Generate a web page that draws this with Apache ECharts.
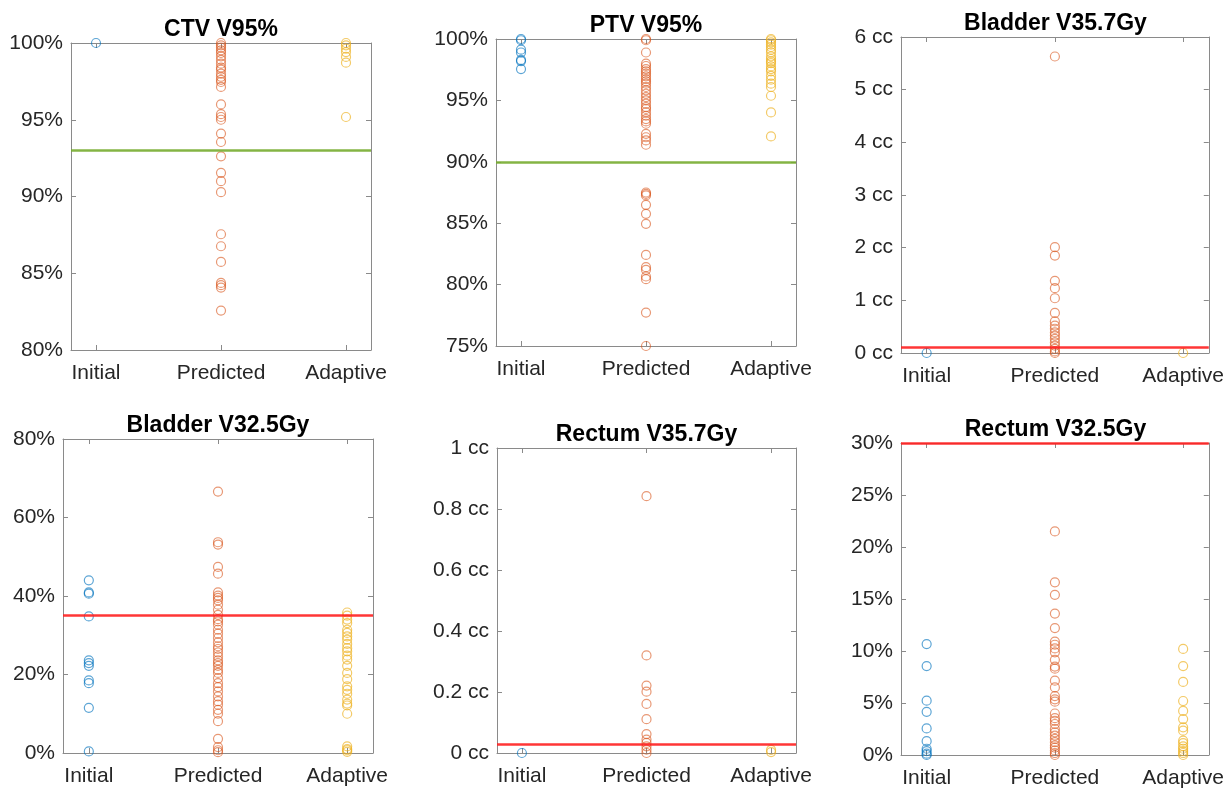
<!DOCTYPE html>
<html>
<head>
<meta charset="utf-8">
<script src="https://cdn.jsdelivr.net/npm/echarts@6/dist/echarts.min.js"></script>
<style>
html,body{margin:0;padding:0;background:#fff;}
#c{width:1227px;height:789px;}
</style>
</head>
<body>
<div id="c"></div>
<script>
// ---------- DATA ----------
const categories = ['Initial', 'Predicted', 'Adaptive'];

const titles = ['CTV V95%', 'PTV V95%', 'Bladder V35.7Gy', 'Bladder V32.5Gy', 'Rectum V35.7Gy', 'Rectum V32.5Gy'];

const ctvInitial = [100];
const ctvPredicted = [100, 99.85, 99.7, 99.52, 99.35, 99.13, 98.9, 98.65, 98.4, 98.26, 98.0, 97.8, 97.6, 97.46, 97.14, 96.0, 95.36, 95.18, 95.0, 94.1, 93.55, 92.62, 91.54, 91.0, 90.28, 87.54, 86.76, 85.74, 84.37, 84.22, 84.07, 82.57];
const ctvAdaptive = [100, 99.85, 99.63, 99.41, 99.09, 98.72, 95.18];
const ctvLimit = 93;

const ptvInitial = [100, 99.9, 99.13, 98.9, 98.3, 98.2, 97.55];
const ptvPredicted = [100, 99.9, 98.9, 97.99, 97.8, 97.55, 97.36, 97.17, 96.96, 96.74, 96.55, 96.36, 96.09, 95.82, 95.54, 95.27, 95.0, 94.73, 94.46, 94.3, 94.02, 93.75, 93.48, 93.29, 93.1, 92.28, 92.0, 91.74, 91.39, 87.5, 87.39, 87.26, 86.5, 85.76, 84.95, 82.42, 81.42, 81.2, 80.66, 80.44, 77.72, 75.0];
const ptvAdaptive = [100, 99.9, 99.73, 99.54, 99.35, 99.13, 98.91, 98.59, 98.37, 98.18, 98.04, 97.77, 97.55, 97.36, 97.0, 96.69, 96.36, 96.09, 95.38, 94.02, 92.07];
const ptvLimit = 90;

const bladder357Initial = [0];
const bladder357Predicted = [5.63, 2.01, 1.85, 1.37, 1.23, 1.04, 0.76, 0.60, 0.52, 0.46, 0.39, 0.33, 0.27, 0.20, 0.14, 0.08, 0.03, 0];
const bladder357Adaptive = [0];
const bladder357Limit = 0.1;

const bladder325Initial = [44.0, 40.9, 40.6, 34.8, 23.6, 22.9, 22.2, 18.5, 17.8, 11.5, 0.4];
const bladder325Predicted = [66.6, 53.7, 53.1, 47.4, 45.7, 40.9, 40.1, 39.5, 38.9, 37.8, 36.5, 35.2, 34.1, 33.5, 32.7, 31.4, 30.4, 29.3, 28.2, 27.2, 26.5, 25.6, 24.6, 23.6, 22.9, 22.2, 21.2, 20.4, 19.1, 17.8, 16.8, 15.7, 14.4, 13.2, 12.3, 11.0, 10.0, 8.1, 3.6, 1.5, 0.7, 0.2];
const bladder325Adaptive = [35.8, 35.0, 34.0, 33.1, 31.4, 30.6, 29.7, 28.9, 27.8, 26.7, 25.9, 24.8, 23.8, 22.2, 20.4, 18.8, 17.0, 16.1, 15.1, 13.6, 12.6, 12.1, 10.0, 1.7, 1.0, 0.7, 0.3];
const bladder325Limit = 35;

const rectum357Initial = [0];
const rectum357Predicted = [0.842, 0.320, 0.221, 0.201, 0.161, 0.111, 0.062, 0.044, 0.033, 0.022, 0.011, 0];
const rectum357Adaptive = [0.003, 0.01];
const rectum357Limit = 0.03;

const rectum325Initial = [10.67, 8.55, 5.22, 4.15, 2.56, 1.33, 0.6, 0.38, 0.13, 0];
const rectum325Predicted = [21.5, 16.6, 15.4, 13.6, 12.2, 10.9, 10.6, 10.25, 9.87, 9.15, 8.5, 8.3, 7.15, 6.5, 5.67, 5.35, 5.13, 3.99, 3.54, 3.29, 2.98, 2.5, 2.18, 1.87, 1.55, 1.23, 0.92, 0.7, 0.44, 0.19, 0];
const rectum325Adaptive = [10.2, 8.55, 7.03, 5.19, 4.24, 3.45, 2.66, 2.34, 1.39, 1.14, 0.82, 0.6, 0.38, 0.19, 0];
const rectum325Limit = 30;

// y-axis ranges: [min, max, interval]
const yRanges = [[80, 100, 5], [75, 100, 5], [0, 6, 1], [0, 80, 20], [0, 1, 0.2], [0, 30, 5]];
const yUnits = ['%', '%', ' cc', '%', ' cc', '%'];

// ---------- LAYOUT / STYLE ----------
const panels = [
  {data: [ctvInitial, ctvPredicted, ctvAdaptive], limit: ctvLimit, limitColor: '#77AC30'},
  {data: [ptvInitial, ptvPredicted, ptvAdaptive], limit: ptvLimit, limitColor: '#77AC30'},
  {data: [bladder357Initial, bladder357Predicted, bladder357Adaptive], limit: bladder357Limit, limitColor: '#FF2020'},
  {data: [bladder325Initial, bladder325Predicted, bladder325Adaptive], limit: bladder325Limit, limitColor: '#FF2020'},
  {data: [rectum357Initial, rectum357Predicted, rectum357Adaptive], limit: rectum357Limit, limitColor: '#FF2020'},
  {data: [rectum325Initial, rectum325Predicted, rectum325Adaptive], limit: rectum325Limit, limitColor: '#FF2020'}
];
// grid boxes: [left, top, right, bottom] in px
const boxes = [
  [71, 43, 371, 350],
  [496, 39, 796, 346],
  [901, 37, 1210, 353],
  [63, 439, 373, 753],
  [497, 448, 796, 753],
  [901, 443, 1210, 758]
];
const colors = ['rgba(0,114,189,0.8)', 'rgba(217,83,25,0.75)', 'rgba(237,177,32,0.85)'];
const axisColor = '#8a8a8a';
const textColor = '#262626';
const FONT = '"Liberation Sans", Arial, Helvetica, sans-serif';

const option = {
  backgroundColor: '#fff',
  animation: false,
  title: [], grid: [], xAxis: [], yAxis: [], series: []
};

function fmtY(i) {
  return function (v) {
    let s = +(+v).toFixed(2);
    return s + yUnits[i];
  };
}

panels.forEach((p, i) => {
  const [l, t, r, b] = boxes[i];
  option.grid.push({left: l, top: t, width: r - l, height: b - t, containLabel: false});
  option.title.push({
    text: titles[i], left: (l + r) / 2 - 5, top: t - 30, textAlign: 'center',
    textStyle: {fontFamily: FONT, fontSize: 23, fontWeight: 'bold', color: '#000'}
  });
  const xBase = {
    type: 'value', gridIndex: i, min: 0.8, max: 3.2,
    splitLine: {show: false},
    axisLine: {show: true, onZero: false, lineStyle: {color: axisColor, width: 1}},
    axisTick: {show: true, inside: true, length: 5, customValues: [1, 2, 3], lineStyle: {color: axisColor}}
  };
  option.xAxis.push(Object.assign({}, xBase, {
    position: 'bottom',
    axisLabel: {show: true, customValues: [1, 2, 3], formatter: v => categories[Math.round(v) - 1] || '',
      fontFamily: FONT, fontSize: 21, color: textColor, margin: 13}
  }));
  option.xAxis.push(Object.assign({}, xBase, {position: 'top', axisLabel: {show: false}}));
  const [mn, mx, iv] = yRanges[i];
  const yBase = {
    type: 'value', gridIndex: i, min: mn, max: mx, interval: iv,
    splitLine: {show: false},
    axisLine: {show: true, onZero: false, lineStyle: {color: axisColor, width: 1}},
    axisTick: {show: true, inside: true, length: 5, lineStyle: {color: axisColor}}
  };
  option.yAxis.push(Object.assign({}, yBase, {
    position: 'left',
    axisLabel: {show: true, formatter: fmtY(i), fontFamily: FONT, fontSize: 21, color: textColor, margin: 8}
  }));
  option.yAxis.push(Object.assign({}, yBase, {position: 'right', axisLabel: {show: false}}));

  p.data.forEach((vals, k) => {
    const s = {
      type: 'scatter',
      xAxisIndex: i * 2, yAxisIndex: i * 2,
      symbol: 'circle', symbolSize: 9,
      itemStyle: {color: 'rgba(0,0,0,0)', borderColor: colors[k], borderWidth: 1.2},
      emphasis: {disabled: true},
      data: vals.map(v => [k + 1, v]),
      z: 3
    };
    if (k === 0) {
      s.markLine = {
        silent: true, symbol: ['none', 'none'], animation: false,
        label: {show: false},
        lineStyle: {color: p.limitColor, width: 2.5, type: 'solid', opacity: 0.9},
        data: [{yAxis: p.limit}],
        z: 4
      };
    }
    option.series.push(s);
  });
});

const chart = echarts.init(document.getElementById('c'), null, {renderer: 'canvas'});
chart.setOption(option);
</script>
</body>
</html>
